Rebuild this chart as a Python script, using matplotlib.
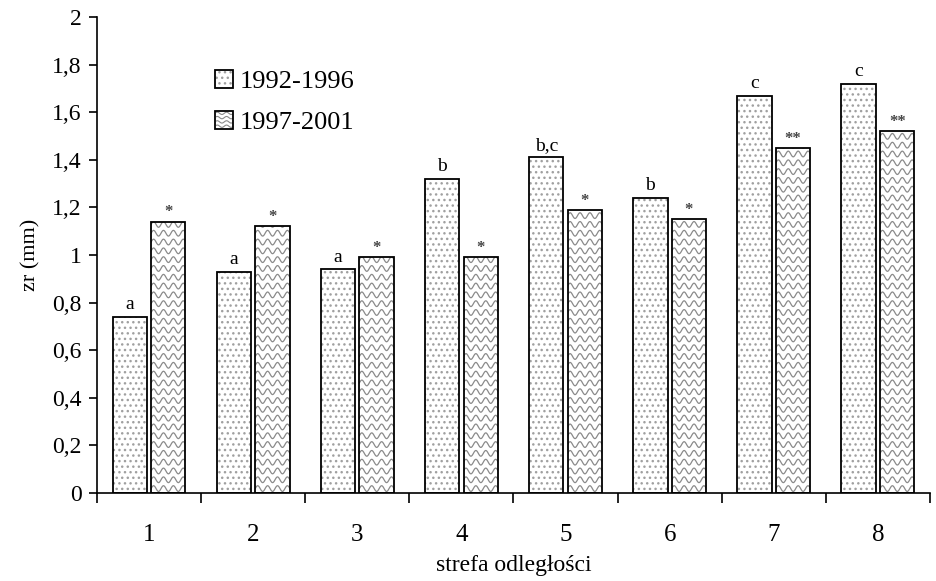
import numpy as np
import matplotlib
matplotlib.use("Agg")
import matplotlib.pyplot as plt
from matplotlib.patches import Rectangle
from matplotlib.legend_handler import HandlerBase
from matplotlib.lines import Line2D

plt.rcParams["font.family"] = ["Liberation Serif", "DejaVu Serif"]

# ── dane ────────────────────────────────────────────
strefy = ["1", "2", "3", "4", "5", "6", "7", "8"]
v_9296 = [0.74, 0.93, 0.94, 1.32, 1.41, 1.24, 1.67, 1.72]
v_9701 = [1.14, 1.12, 0.99, 0.99, 1.19, 1.15, 1.45, 1.52]
lit_9296 = ["a", "a", "a", "b", "b,c", "b", "c", "c"]
lit_9701 = ["*", "*", "*", "*", "*", "*", "**", "**"]
y_ticks = [0, 0.2, 0.4, 0.6, 0.8, 1, 1.2, 1.4, 1.6, 1.8, 2]

fig = plt.figure(figsize=(9.36, 5.81), dpi=100)
ax = fig.add_axes([0.1036, 0.1515, 0.8900, 0.8192])

x = np.arange(len(strefy))
w = 0.33
off = 0.185
GRAY = "#8a8a8a"
DOT = "#a0a0a0"


def wavy(ax, x0, x1, y0, y1, amp=0.012, period=0.095, step=0.037, lw=0.9, clip=None):
    xs = np.linspace(x0, x1, 80)
    y = y0 + step * 0.5
    while y < y1 + step:
        ln, = ax.plot(xs, y + amp * np.sin(2 * np.pi * (xs - x0) / period),
                      color=GRAY, lw=lw, zorder=2)
        if clip is not None:
            ln.set_clip_path(clip)
        y += step


# słupki 1992-1996 (kropki)
ax.bar(x - off, v_9296, w, color="white", edgecolor=DOT, hatch="...",
       linewidth=0, zorder=1)
ax.bar(x - off, v_9296, w, fill=False, edgecolor="black", linewidth=1.3, zorder=3)

# słupki 1997-2001 (fale)
b2 = ax.bar(x + off, v_9701, w, color="white", edgecolor="none", linewidth=0, zorder=1)
for p in b2.patches:
    wavy(ax, p.get_x(), p.get_x() + p.get_width(), 0, p.get_height(), clip=p)
ax.bar(x + off, v_9701, w, fill=False, edgecolor="black", linewidth=1.3, zorder=3)

# litery nad słupkami
for xi, v, t in zip(x - off, v_9296, lit_9296):
    ax.text(xi, v + 0.015, t, ha="center", va="bottom", fontsize=14)
for xi, v, t in zip(x + off, v_9701, lit_9701):
    ax.text(xi, v + 0.005, t, ha="center", va="bottom", fontsize=12,
            color="#444444", fontweight="bold")

ax.set_xlim(-0.5, len(strefy) - 0.5)
ax.set_ylim(0, 2)
ax.set_yticks(y_ticks)
ax.set_yticklabels([f"{t:g}".replace(".", ",") for t in y_ticks], fontsize=17)
ax.set_xticks(x)
ax.set_xticklabels(strefy, fontsize=18)
ax.tick_params(axis="x", which="major", length=0, pad=22)
ax.set_xticks(np.arange(-0.5, len(strefy)), minor=True)
ax.tick_params(axis="x", which="minor", length=7.5, width=1.2, direction="out")
ax.tick_params(axis="y", length=6, width=1.2, direction="out", pad=5)
for s in ["top", "right"]:
    ax.spines[s].set_visible(False)
for s in ["left", "bottom"]:
    ax.spines[s].set_linewidth(1.2)
ax.set_ylabel("zr (mm)", fontsize=16, labelpad=8)
ax.set_xlabel("strefa odległości", fontsize=17, labelpad=7)


# legenda z własnym wzorem falistym
class HandlerWave(HandlerBase):
    def create_artists(self, legend, orig, xd, yd, width, height, fontsize, trans):
        s = min(width, height)
        x0 = xd + (width - s) / 2
        y0 = yd
        out = []
        n = 4
        xs = np.linspace(x0 + 1, x0 + s - 1, 30)
        for k in range(n):
            yy = y0 + (k + 0.7) * s / (n + 0.3) + 0.25 * s / n * np.sin(2 * np.pi * (xs - x0) / (s / 2))
            out.append(Line2D(xs, yy, color=GRAY, lw=0.8, transform=trans))
        out.append(Rectangle((x0, y0), s, s, fill=False, edgecolor="black", lw=1.3, transform=trans))
        return out


class HandlerDots(HandlerBase):
    def create_artists(self, legend, orig, xd, yd, width, height, fontsize, trans):
        s = min(width, height)
        x0 = xd + (width - s) / 2
        r1 = Rectangle((x0, yd), s, s, facecolor="white", edgecolor=DOT, hatch="...",
                       lw=0, transform=trans)
        r2 = Rectangle((x0, yd), s, s, fill=False, edgecolor="black", lw=1.3, transform=trans)
        return [r1, r2]


h1 = Rectangle((0, 0), 1, 1)
h2 = Rectangle((0, 0), 1, 1)
ax.legend([h1, h2], ["1992-1996", "1997-2001"], loc="upper left",
          bbox_to_anchor=(0.1417, 0.889), frameon=False, fontsize=19,
          borderpad=0, borderaxespad=0,
          handler_map={h1: HandlerDots(), h2: HandlerWave()},
          handlelength=0.7, handleheight=0.7, handletextpad=0.25, labelspacing=0.66)

fig.savefig("out.png", dpi=100)
